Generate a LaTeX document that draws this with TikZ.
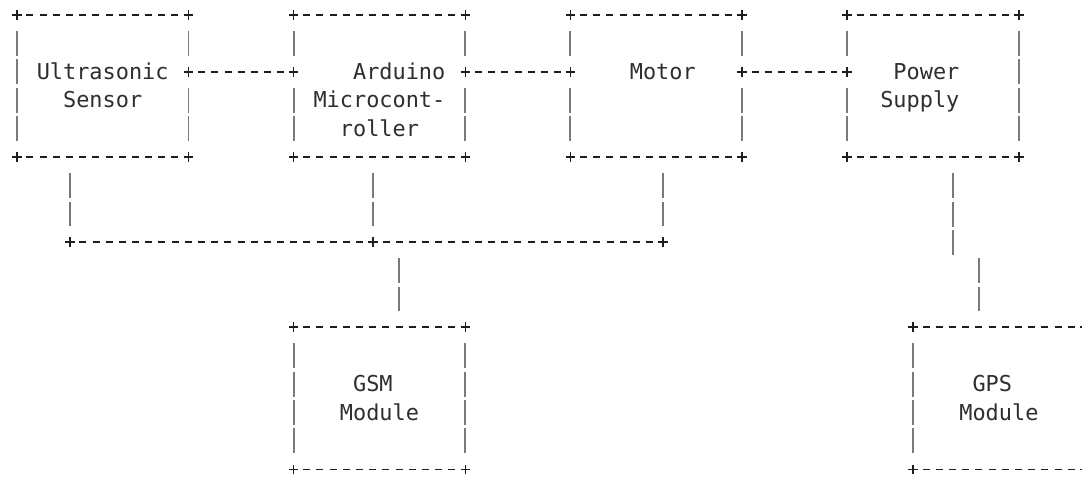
\documentclass[tikz,border=0pt]{standalone}
\usepackage{fontspec}
\newfontfamily\monofam{DejaVu Sans Mono}
\definecolor{txtc}{HTML}{2E2E2E}
\definecolor{dashc}{HTML}{1E1E1E}
\definecolor{barc}{HTML}{7A7A7A}
\tikzset{
  unit/.style={inner sep=0pt, minimum width=171.34pt, minimum height=142pt},
  lbl/.style={font=\monofam\fontsize{21.89pt}{26pt}\selectfont, text=txtc, inner sep=0pt, anchor=base, yshift=-7.5pt},
  hd/.style={draw=dashc, line width=1.6pt, dash pattern=on 7pt off 6.18pt, shorten <=9.68pt, shorten >=9.68pt},
  vd/.style={draw=barc, line width=1.9pt, dash pattern=on 25pt off 3.4pt, shorten <=15.9pt, shorten >=15.9pt},
  pk/.style={draw=dashc, line width=1.6pt}
}
\newcommand\pmk[1]{\draw[pk] #1 ++(-4.8pt,0) -- ++(9.6pt,0) #1 ++(0,-4.8pt) -- ++(0,9.6pt);}
\newcommand\frm[3]{%
  \draw[hd] (#1.north west) -- (#1.north east);
  \draw[hd] (#1.south west) -- (#1.south east);
  \ifnum#2=1
    \draw[vd] (#1.north west) -- ([yshift=14.2pt]#1.west);
    \draw[vd] ([yshift=14.2pt]#1.west) -- (#1.south west);
    \pmk{([yshift=14.2pt]#1.west)}
  \else
    \draw[vd] (#1.north west) -- (#1.south west);
  \fi
  \ifnum#3=1
    \draw[vd] (#1.north east) -- ([yshift=14.2pt]#1.east);
    \draw[vd] ([yshift=14.2pt]#1.east) -- (#1.south east);
    \pmk{([yshift=14.2pt]#1.east)}
  \else
    \draw[vd] (#1.north east) -- (#1.south east);
  \fi
  \pmk{(#1.north west)}\pmk{(#1.north east)}\pmk{(#1.south west)}\pmk{(#1.south east)}%
}
\begin{document}
\begin{tikzpicture}[x=13.18pt, y=-28.4pt]
\fill[white] (-17pt,15pt) rectangle (1065pt,-462pt);
\useasboundingbox (-17pt,15pt) rectangle (1065pt,-462pt);

% boxes
\node[unit] (us)  at (6.5,2.5) {};
\node[unit] (ard) at (27.5,2.5) {};
\node[unit] (mot) at (48.5,2.5) {};
\node[unit] (pwr) at (69.5,2.5) {};
\node[unit] (gsm) at (27.5,13.5) {};
\node[unit] (gps) at (74.5,13.5) {};

% labels
\node[lbl] (t1) at (6.5,2) {Ultrasonic};
\node[lbl] (t2) at (6.5,3) {Sensor};
\node[lbl] (t3) at (29,2) {Arduino};
\node[lbl] (t4) at (27.5,3) {Microcont-};
\node[lbl] (t5) at (27.5,4) {roller};
\node[lbl] (t6) at (49,2) {Motor};
\node[lbl] (t7) at (69,2) {Power};
\node[lbl] (t8) at (68.5,3) {Supply};
\node[lbl] (t9) at (27,13) {GSM};
\node[lbl] (t10) at (27.5,14) {Module};
\node[lbl] (t11) at (74,13) {GPS};
\node[lbl] (t12) at (74.5,14) {Module};

% borders
\frm{us}{0}{1}
\frm{ard}{1}{1}
\frm{mot}{1}{1}
\frm{pwr}{1}{0}
\frm{gsm}{0}{0}
\frm{gps}{0}{0}

% horizontal links
\draw[hd] ([yshift=14.2pt]us.east) -- ([yshift=14.2pt]ard.west);
\draw[hd] ([yshift=14.2pt]ard.east) -- ([yshift=14.2pt]mot.west);
\draw[hd] ([yshift=14.2pt]mot.east) -- ([yshift=14.2pt]pwr.west);

% bus
\coordinate (j1) at (4,8);
\coordinate (j2) at (27,8);
\coordinate (j3) at (49,8);
\coordinate (j4) at (29,8);
\draw[vd] (j1 |- us.south) -- (j1);
\draw[vd] (j2 |- ard.south) -- (j2);
\draw[vd] (j3 |- mot.south) -- (j3);
\draw[hd] (j1) -- (j2);
\draw[hd] (j2) -- (j3);
\pmk{(j1)}\pmk{(j2)}\pmk{(j3)}
\draw[vd] (j4) -- (j4 |- gsm.north);

% power to GPS
\coordinate (k1) at (71,9);
\coordinate (k2) at (73,8);
\draw[vd] (k1 |- pwr.south) -- (k1);
\draw[vd] (k2) -- (k2 |- gps.north);
\end{tikzpicture}
\end{document}
